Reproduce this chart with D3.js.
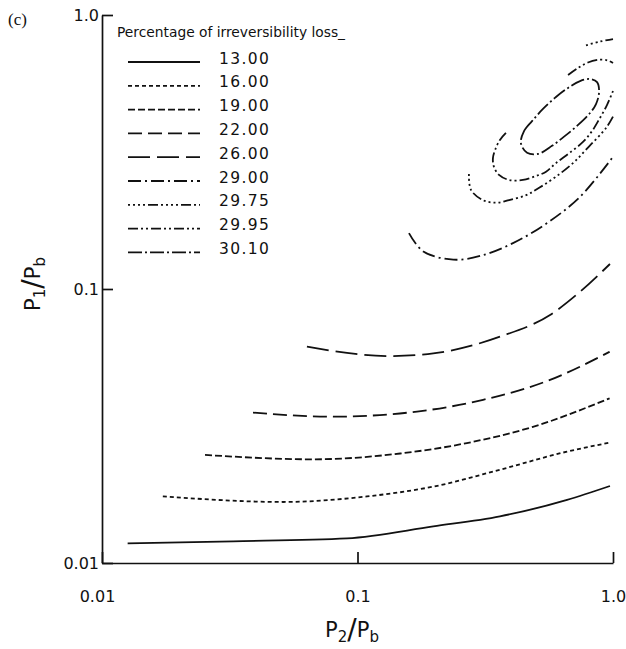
<!DOCTYPE html>
<html>
<head>
<meta charset="utf-8">
<script src="https://cdn.jsdelivr.net/npm/d3@7"></script>
<style>
    html, body { margin: 0; padding: 0; background: #fff; }
    #chart-loss text { font-family: "DejaVu Sans", sans-serif; fill: #111; }
</style>
</head>
<body>
<div id="chart-loss"></div>
<script>
// tick values and labels
var X_TICKS       = [0.01, 0.1, 1.0];
var X_TICK_LABELS = ["0.01", "0.1", "1.0"];
var Y_TICKS       = [0.01, 0.1, 1.0];
var Y_TICK_LABELS = ["0.01", "0.1", "1.0"];

// contour levels (percentage of irreversibility loss)
var LEVELS = ["13.00", "16.00", "19.00", "22.00", "26.00", "29.00", "29.75", "29.95", "30.10"];

// contour pieces, [P2/Pb, P1/Pb] points
var loss1300 = [[[0.0126, 0.0118], [0.0326, 0.0120], [0.091, 0.0123], [0.198, 0.0136],
                 [0.361, 0.0148], [0.661, 0.0170], [0.973, 0.0191]]];
var loss1600 = [[[0.0173, 0.0175], [0.0511, 0.0167], [0.109, 0.0175], [0.198, 0.0190],
                 [0.361, 0.0219], [0.661, 0.0255], [0.97, 0.0275]]];
var loss1900 = [[[0.0253, 0.0248], [0.067, 0.0239], [0.147, 0.0251], [0.268, 0.0274],
                 [0.486, 0.0314], [0.97, 0.0399]]];
var loss2200 = [[[0.039, 0.0354], [0.080, 0.0342], [0.171, 0.0357], [0.310, 0.0394],
                 [0.567, 0.0466], [0.97, 0.059]]];
var loss2600 = [[[0.0634, 0.0616], [0.134, 0.0569], [0.198, 0.0582], [0.361, 0.067],
                 [0.567, 0.0804], [0.743, 0.0977], [0.973, 0.1234]]];
var loss2900 = [[[0.159, 0.160], [0.181, 0.137], [0.237, 0.128], [0.302, 0.132],
                 [0.406, 0.147], [0.552, 0.174], [0.743, 0.217], [0.99, 0.300]]];
var loss2975 = [
    [[0.784, 0.775], [0.889, 0.80], [1.0, 0.817]],
    [[0.273, 0.263], [0.278, 0.230], [0.310, 0.211], [0.348, 0.2065], [0.392, 0.211],
     [0.457, 0.220], [0.514, 0.234], [0.598, 0.257], [0.697, 0.288], [0.805, 0.331],
     [0.939, 0.387], [1.0, 0.426]]
];
var loss2995 = [
    [[0.667, 0.604], [0.730, 0.641], [0.798, 0.671], [0.889, 0.687], [0.956, 0.682], [1.0, 0.668]],
    [[0.381, 0.371], [0.361, 0.350], [0.348, 0.327], [0.339, 0.301], [0.342, 0.279],
     [0.358, 0.261], [0.392, 0.25], [0.444, 0.25], [0.50, 0.2585], [0.547, 0.268],
     [0.598, 0.288], [0.673, 0.313], [0.763, 0.344], [0.828, 0.377], [0.889, 0.421],
     [0.947, 0.469], [1.0, 0.528]]
];
// innermost level is a closed loop
var loss3010 = [[[0.436, 0.341], [0.4485, 0.377], [0.482, 0.410], [0.532, 0.454], [0.598, 0.502],
                 [0.667, 0.542], [0.743, 0.574], [0.813, 0.584], [0.866, 0.569], [0.882, 0.524],
                 [0.858, 0.473], [0.813, 0.439], [0.730, 0.397], [0.649, 0.362], [0.577, 0.333],
                 [0.509, 0.311], [0.461, 0.314]]];

var CONTOURS = [loss1300, loss1600, loss1900, loss2200, loss2600, loss2900, loss2975, loss2995, loss3010];

// line styles per level
var DASHES = ["none", "4,3", "7,3", "14,6", "22,7", "13,4,2,4",
              "2,3,2,3,2,3,2,3,10,3", "10,3,2,3,2,3", "14,3,2,3"];

var W = 626, H = 649;
var margin = { top: 15, right: 13, bottom: 86, left: 102 };
var iW = W - margin.left - margin.right;
var iH = H - margin.top - margin.bottom;

var svg = d3.select("#chart-loss")
    .append("svg")
    .attr("width", W)
    .attr("height", H);

var g = svg.append("g")
    .attr("transform", "translate(" + margin.left + "," + margin.top + ")");

/* scales */
var xScale = d3.scaleLog().domain([0.01, 1.0]).range([0, iW]);
var yScale = d3.scaleLog().domain([0.01, 1.0]).range([iH, 0]);

/* axes */
var xAxis = g.append("g")
    .attr("class", "axis axis-x")
    .attr("transform", "translate(0," + iH + ")")
    .call(d3.axisBottom(xScale)
        .tickValues(X_TICKS)
        .tickSize(-11)
        .tickSizeOuter(0)
        .tickPadding(28)
        .tickFormat(function (d, i) { return X_TICK_LABELS[i]; }));

var yAxis = g.append("g")
    .attr("class", "axis axis-y")
    .call(d3.axisLeft(yScale)
        .tickValues(Y_TICKS)
        .tickSize(-11)
        .tickSizeOuter(0)
        .tickPadding(3)
        .tickFormat(function (d, i) { return Y_TICK_LABELS[i]; }));

g.selectAll(".axis path, .axis line")
    .style("stroke", "#111")
    .style("stroke-width", 1.7);
g.selectAll(".axis text")
    .style("font-family", "'DejaVu Sans', sans-serif")
    .style("font-size", "16px")
    .style("fill", "#111");
xAxis.selectAll(".tick text").filter(function (d) { return d === 0.01; })
    .attr("dx", -5);

/* contour lines */
var line = d3.line()
    .x(function (d) { return xScale(d[0]); })
    .y(function (d) { return yScale(d[1]); })
    .curve(d3.curveCatmullRom.alpha(0.5));

var lineX = d3.line()
    .x(function (d) { return xScale(d[0]); })
    .y(function (d) { return yScale(d[1]); })
    .curve(d3.curveMonotoneX);

var loop = d3.line()
    .x(function (d) { return xScale(d[0]); })
    .y(function (d) { return yScale(d[1]); })
    .curve(d3.curveCatmullRomClosed.alpha(0.5));

CONTOURS.forEach(function (pieces, k) {
    var gen = k < 5 ? lineX : (k === CONTOURS.length - 1 ? loop : line);
    g.selectAll(".contour-" + k)
        .data(pieces)
        .enter().append("path")
        .attr("class", "contour contour-" + k)
        .attr("fill", "none")
        .attr("stroke", "#111")
        .attr("stroke-width", 1.8)
        .attr("stroke-dasharray", DASHES[k])
        .attr("d", gen);
});

/* legend */
var legend = svg.append("g").attr("class", "chart-legend");

legend.append("text")
    .attr("x", 117).attr("y", 37)
    .attr("textLength", 228)
    .attr("lengthAdjust", "spacingAndGlyphs")
    .style("font-size", "14px")
    .text("Percentage of irreversibility loss_");

LEVELS.forEach(function (lab, i) {
    var base = 63.5 + i * 23.8;
    legend.append("line")
        .attr("x1", 128).attr("x2", 200)
        .attr("y1", base - 1.5).attr("y2", base - 1.5)
        .attr("stroke", "#111")
        .attr("stroke-width", 1.8)
        .attr("stroke-dasharray", DASHES[i]);
    legend.append("text")
        .attr("x", 219).attr("y", base)
        .style("font-size", "15.5px")
        .style("letter-spacing", "1.4px")
        .text(lab);
});

/* axis titles */
var xt = svg.append("text")
    .attr("x", 352).attr("y", 637)
    .attr("text-anchor", "middle")
    .style("font-size", "21px");
xt.append("tspan").text("P");
xt.append("tspan").attr("dy", 5).style("font-size", "15px").text("2");
xt.append("tspan").attr("dy", -3).style("font-size", "28px").text("/");
xt.append("tspan").attr("dy", -2).text("P");
xt.append("tspan").attr("dy", 5).style("font-size", "15px").text("b");

var yt = svg.append("text")
    .attr("transform", "translate(40,284) rotate(-90)")
    .attr("text-anchor", "middle")
    .style("font-size", "21px");
yt.append("tspan").text("P");
yt.append("tspan").attr("dy", 5).style("font-size", "15px").text("1");
yt.append("tspan").attr("dy", -3).style("font-size", "28px").text("/");
yt.append("tspan").attr("dy", -2).text("P");
yt.append("tspan").attr("dy", 5).style("font-size", "15px").text("b");

/* panel tag */
svg.append("text")
    .attr("x", 8).attr("y", 25)
    .style("font-family", "'Liberation Serif', serif")
    .style("font-size", "17px")
    .text("(c)");
</script>
</body>
</html>
